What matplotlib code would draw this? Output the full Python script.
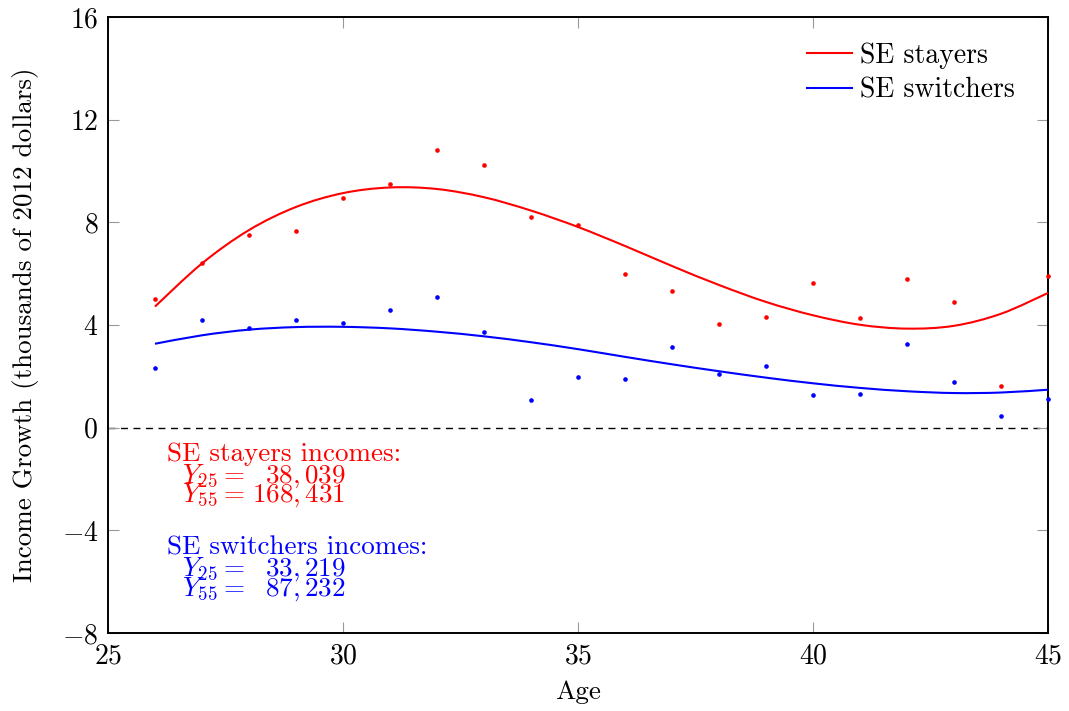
import matplotlib
matplotlib.use("Agg")
import matplotlib.pyplot as plt
from matplotlib.path import Path
from matplotlib.patches import PathPatch
from matplotlib.lines import Line2D
import numpy as np

plt.rcParams['font.family'] = 'serif'
plt.rcParams['font.serif'] = ['cmr10']
plt.rcParams['mathtext.fontset'] = 'cm'
plt.rcParams['axes.formatter.use_mathtext'] = True

ages = np.arange(26, 46)

# raw income growth points (thousands of 2012 dollars)
stayers_pts = [5.01, 6.43, 7.49, 7.65, 8.95, 9.49, 10.83, 10.22, 8.22, 7.88,
               6.00, 5.32, 4.05, 4.31, 5.64, 4.27, 5.80, 4.88, 1.64, 5.93]
switchers_pts = [2.31, 4.18, 3.88, 4.21, 4.09, 4.58, 5.09, 3.73, 1.09, 1.97,
                 1.91, 3.13, 2.08, 2.39, 1.27, 1.32, 3.26, 1.77, 0.44, 1.12]

# fitted curves, read at each age
stayers_fit = [4.72, 6.40, 7.70, 8.60, 9.14, 9.36, 9.30, 8.98, 8.46, 7.82,
               7.08, 6.30, 5.56, 4.90, 4.38, 4.01, 3.86, 3.97, 4.44, 5.25]
switchers_fit = [3.27, 3.60, 3.82, 3.92, 3.93, 3.87, 3.74, 3.56, 3.33, 3.06,
                 2.76, 2.47, 2.20, 1.95, 1.73, 1.55, 1.42, 1.35, 1.37, 1.48]

xticks = [25, 30, 35, 40, 45]
yticks = [-8, -4, 0, 4, 8, 12, 16]


def smooth_path(x, y):
    # catmull-rom through the points, drawn as cubic bezier segments
    p = np.column_stack([x, y]).astype(float)
    ext = np.vstack([p[0], p, p[-1]])
    verts = [p[0]]
    codes = [Path.MOVETO]
    for i in range(1, len(ext) - 2):
        c1 = ext[i] + (ext[i + 1] - ext[i - 1]) / 6.0
        c2 = ext[i + 1] - (ext[i + 2] - ext[i]) / 6.0
        verts += [c1, c2, ext[i + 1]]
        codes += [Path.CURVE4] * 3
    return Path(verts, codes)


fig = plt.figure(figsize=(10.69, 7.11), dpi=100)
ax = fig.add_axes([0.101, 0.1097, 0.8794, 0.8663])

ax.axhline(0, color='black', lw=1.0, ls=(0, (5, 4)), zorder=1)
ax.add_patch(PathPatch(smooth_path(ages, stayers_fit), fill=False,
                       edgecolor='red', lw=1.5, zorder=3))
ax.add_patch(PathPatch(smooth_path(ages, switchers_fit), fill=False,
                       edgecolor='blue', lw=1.5, zorder=3))
ax.scatter(ages, stayers_pts, color='red', s=11, zorder=4, clip_on=False, linewidths=0)
ax.scatter(ages, switchers_pts, color='blue', s=11, zorder=4, clip_on=False, linewidths=0)

ax.set_xlim(25, 45)
ax.set_ylim(-8, 16)
ax.set_xticks(xticks)
ax.set_yticks(yticks)
ax.tick_params(direction='in', length=8, width=0.8, color='#999999',
               labelsize=20, top=True, right=True, pad=7)
for s in ax.spines.values():
    s.set_linewidth(1.4)

ax.set_xlabel('Age', fontsize=19.5, labelpad=8)
ax.set_ylabel('Income Growth (thousands of 2012 dollars)', fontsize=19.5, labelpad=16)

handles = [Line2D([], [], color='red', lw=1.5), Line2D([], [], color='blue', lw=1.5)]
ax.legend(handles, ['SE stayers', 'SE switchers'], loc='upper right', frameon=False,
          fontsize=20, handlelength=1.6, handletextpad=0.3, labelspacing=0.32,
          bbox_to_anchor=(0.9915, 1.0))

# income annotations
fs = 19.5
ax.text(26.255, -1.29, 'SE stayers incomes:', color='red', fontsize=fs)
ax.text(26.57, -2.14, r'$Y_{25} =$', color='red', fontsize=fs)
ax.text(30.06, -2.14, r'$38,039$', color='red', fontsize=fs, ha='right')
ax.text(26.57, -2.88, r'$Y_{55} =$', color='red', fontsize=fs)
ax.text(30.06, -2.88, r'$168,431$', color='red', fontsize=fs, ha='right')

ax.text(26.255, -4.95, 'SE switchers incomes:', color='blue', fontsize=fs)
ax.text(26.57, -5.77, r'$Y_{25} =$', color='blue', fontsize=fs)
ax.text(30.06, -5.77, r'$33,219$', color='blue', fontsize=fs, ha='right')
ax.text(26.57, -6.54, r'$Y_{55} =$', color='blue', fontsize=fs)
ax.text(30.06, -6.54, r'$87,232$', color='blue', fontsize=fs, ha='right')

fig.savefig('out.png', dpi=100)
